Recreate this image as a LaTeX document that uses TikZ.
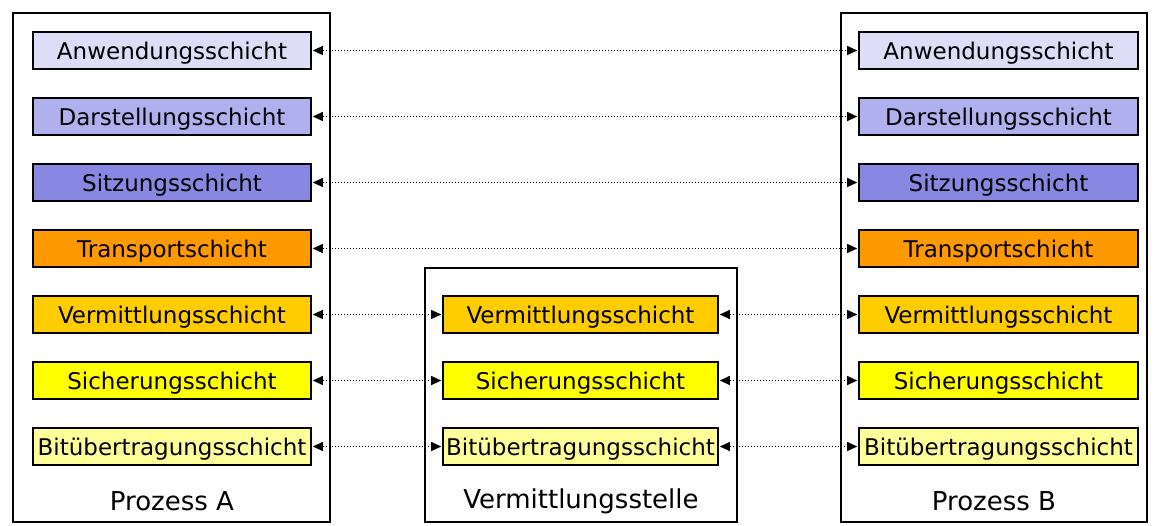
\documentclass[tikz,border=0pt]{standalone}
\usepackage{fontspec}
\setmainfont{DejaVu Sans}
\usetikzlibrary{arrows.meta}
\definecolor{cAnw}{RGB}{221,221,248}
\definecolor{cDar}{RGB}{176,176,238}
\definecolor{cSit}{RGB}{136,136,226}
\definecolor{cTra}{RGB}{255,153,0}
\definecolor{cVer}{RGB}{255,204,0}
\definecolor{cSic}{RGB}{255,255,0}
\definecolor{cBit}{RGB}{255,255,153}
\tikzset{
  layer/.style={draw=black, line width=1.6pt, minimum height=37pt, inner xsep=0pt, inner ysep=0pt,
    text height=19pt, text depth=0pt, font=\fontsize{23}{27}\selectfont},
  container/.style={draw=black, line width=1.4pt, inner sep=0pt},
  caption/.style={font=\fontsize{26}{30}\selectfont, inner sep=0pt},
  link/.style={line width=1.1pt, dash pattern=on 1.3pt off 1.7pt,
    {Triangle[length=10pt,width=9pt]}-{Triangle[length=10pt,width=9pt]}, shorten <=1pt, shorten >=1pt}
}
\begin{document}
\begin{tikzpicture}[x=1pt,y=-1pt]
\useasboundingbox (0,0) rectangle (1160,526);
% containers
\node[container, minimum width=317pt, minimum height=509pt] (PA) at (171.5,267.5) {};
\node[container, minimum width=312pt, minimum height=254pt] (VS) at (581,395) {};
\node[container, minimum width=306pt, minimum height=509pt] (PB) at (994,267.5) {};
% captions
\node[caption] (capA) at (172,501) {Prozess A};
\node[caption] (capV) at (581,501) {Vermittlungsstelle};
\node[caption] (capB) at (994,501) {Prozess B};
% left stack
\node[layer, fill=cAnw, minimum width=278pt] (a7) at (172,50.5) {Anwendungsschicht};
\node[layer, fill=cDar, minimum width=278pt] (a6) at (172,116.5) {Darstellungsschicht};
\node[layer, fill=cSit, minimum width=278pt] (a5) at (172,182.5) {Sitzungsschicht};
\node[layer, fill=cTra, minimum width=278pt] (a4) at (172,248.5) {Transportschicht};
\node[layer, fill=cVer, minimum width=278pt] (a3) at (172,314.5) {Vermittlungsschicht};
\node[layer, fill=cSic, minimum width=278pt] (a2) at (172,380.5) {Sicherungsschicht};
\node[layer, fill=cBit, minimum width=278pt] (a1) at (172,446.5) {Bitübertragungsschicht};
% right stack
\node[layer, fill=cAnw, minimum width=279pt] (b7) at (998.5,50.5) {Anwendungsschicht};
\node[layer, fill=cDar, minimum width=279pt] (b6) at (998.5,116.5) {Darstellungsschicht};
\node[layer, fill=cSit, minimum width=279pt] (b5) at (998.5,182.5) {Sitzungsschicht};
\node[layer, fill=cTra, minimum width=279pt] (b4) at (998.5,248.5) {Transportschicht};
\node[layer, fill=cVer, minimum width=279pt] (b3) at (998.5,314.5) {Vermittlungsschicht};
\node[layer, fill=cSic, minimum width=279pt] (b2) at (998.5,380.5) {Sicherungsschicht};
\node[layer, fill=cBit, minimum width=279pt] (b1) at (998.5,446.5) {Bitübertragungsschicht};
% middle stack
\node[layer, fill=cVer, minimum width=275pt] (m3) at (580.5,314.5) {Vermittlungsschicht};
\node[layer, fill=cSic, minimum width=275pt] (m2) at (580.5,380.5) {Sicherungsschicht};
\node[layer, fill=cBit, minimum width=275pt] (m1) at (580.5,446.5) {Bitübertragungsschicht};
% links
\foreach \i in {7,6,5,4} { \draw[link] (a\i.east) -- (b\i.west); }
\foreach \i in {3,2,1} {
  \draw[link] (a\i.east) -- (m\i.west);
  \draw[link] (m\i.east) -- (b\i.west);
}
\end{tikzpicture}
\end{document}
